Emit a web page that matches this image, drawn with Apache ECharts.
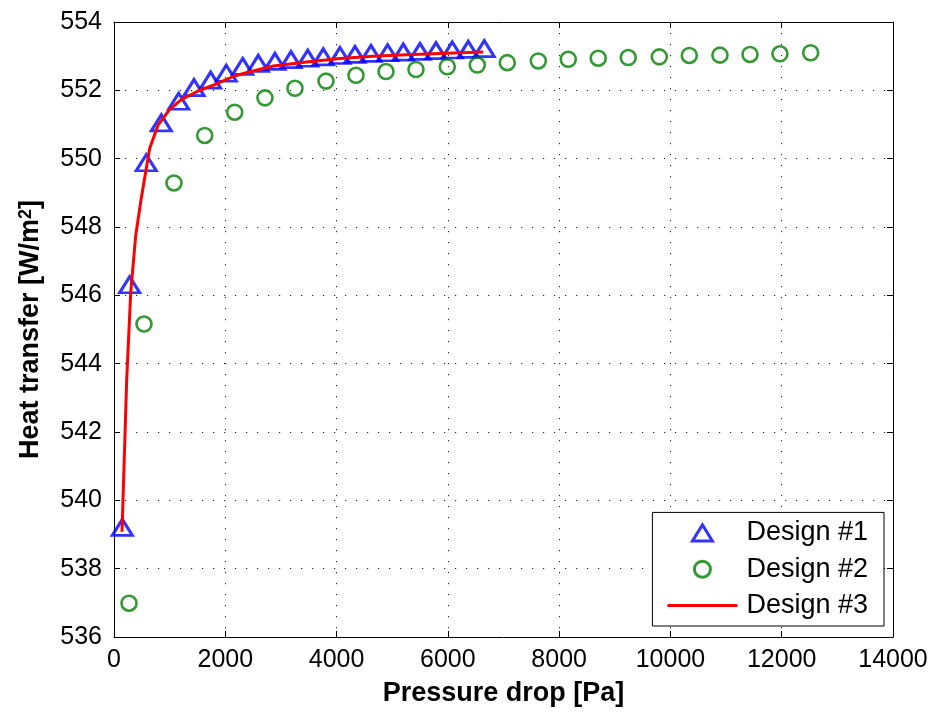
<!DOCTYPE html>
<html>
<head>
<meta charset="utf-8">
<script src="https://cdn.jsdelivr.net/npm/echarts@6/dist/echarts.min.js"></script>
<style>
  html, body { margin: 0; padding: 0; background: #fff; }
  #chart { width: 941px; height: 713px; }
</style>
</head>
<body>
<div id="chart"></div>
<script>
// Design #1 (triangles): pressure drop [Pa] and heat transfer [W/m^2]
const design1X = [150, 282, 580, 850, 1162, 1438, 1737, 2018, 2313, 2593, 2893, 3181,
  3481, 3761, 4061, 4331, 4618, 4918, 5199, 5499, 5786, 6079, 6367, 6654];
const design1Y = [539.21, 546.31, 549.88, 551.05, 551.68, 552.08, 552.30, 552.50, 552.70, 552.79, 552.85, 552.90,
  552.94, 552.98, 553.02, 553.05, 553.08, 553.10, 553.12, 553.14, 553.16, 553.18, 553.20, 553.22];

// Design #2 (circles)
const design2X = [270, 539, 1078, 1630, 2169, 2713, 3253, 3810, 4349, 4888, 5427, 5990, 6529,
  7068, 7625, 8164, 8703, 9242, 9800, 10339, 10890, 11430, 11968, 12520];
const design2Y = [536.99, 545.16, 549.29, 550.68, 551.36, 551.78, 552.06, 552.27, 552.44, 552.55, 552.61, 552.69, 552.74,
  552.81, 552.86, 552.91, 552.94, 552.96, 552.98, 553.02, 553.03, 553.05, 553.07, 553.10];

// Design #3 (solid curve)
const design3X = [144, 228, 300, 390, 491, 570, 641, 791, 1001, 1210, 1510, 1809, 2169, 2408,
  2863, 3463, 4061, 4660, 5260, 5858, 6636];
const design3Y = [539.08, 543.53, 546.07, 547.75, 548.85, 549.62, 550.30, 550.98, 551.44, 551.73, 551.98, 552.17, 552.42, 552.53,
  552.71, 552.83, 552.93, 553.00, 553.04, 553.08, 553.12];

// Axis ranges and tick steps
const xRange = [0, 14000], xStep = 2000;
const yRange = [536, 554], yStep = 2;

const seriesNames = ['Design #1', 'Design #2', 'Design #3'];

const pair = (xs, ys) => xs.map((x, i) => [x, ys[i]]);

const FONT = 'Liberation Sans';
const BLUE = '#0000ff', GREEN = '#008000', RED = '#ff0000';

const gridLine = { show: true, lineStyle: { color: '#222', width: 1, type: [1.2, 9.8] } };

function axisBase(extra) {
  return Object.assign({
    type: 'value',
    axisLine: { show: true, onZero: false, lineStyle: { color: '#000', width: 1 } },
    axisTick: { show: true, inside: true, length: 6, lineStyle: { color: '#000', width: 1 } },
  }, extra);
}

const chart = echarts.init(document.getElementById('chart'), null, { renderer: 'canvas' });

chart.setOption({
  animation: false,
  backgroundColor: '#fff',
  textStyle: { fontFamily: FONT },
  grid: { left: 114, right: 48, top: 22, bottom: 76, containLabel: false },
  xAxis: [
    axisBase({
      position: 'bottom', min: xRange[0], max: xRange[1], interval: xStep,
      axisLabel: {
        color: '#000', fontSize: 25, fontFamily: FONT, margin: 11,
        showMinLabel: true, showMaxLabel: true, formatter: v => String(v)
      },
      splitLine: gridLine,
      name: 'Pressure drop [Pa]', nameLocation: 'middle', nameGap: 43,
      nameTextStyle: { color: '#000', fontSize: 27, fontWeight: 'bold', fontFamily: FONT }
    }),
    axisBase({
      position: 'top', min: xRange[0], max: xRange[1], interval: xStep,
      axisLabel: { show: false }, splitLine: { show: false }
    })
  ],
  yAxis: [
    axisBase({
      position: 'left', min: yRange[0], max: yRange[1], interval: yStep,
      axisLabel: { color: '#000', fontSize: 25, fontFamily: FONT, margin: 12, formatter: v => String(v) },
      splitLine: gridLine,
      name: '{a|Heat transfer [W/m}{s|2}{a|]}', nameLocation: 'middle', nameGap: 70,
      nameTextStyle: {
        rich: {
          a: { color: '#000', fontSize: 27, fontWeight: 'bold', fontFamily: FONT },
          s: { color: '#000', fontSize: 18, fontWeight: 'bold', fontFamily: FONT, verticalAlign: 'top' }
        }
      }
    }),
    axisBase({
      position: 'right', min: yRange[0], max: yRange[1], interval: yStep,
      axisLabel: { show: false }, splitLine: { show: false }
    })
  ],
  legend: {
    orient: 'vertical',
    right: 57, bottom: 87,
    padding: [6.5, 16, 6.5, 15],
    itemGap: 8.3,
    itemWidth: 70, itemHeight: 16,
    symbolKeepAspect: true,
    backgroundColor: '#fff',
    borderColor: '#000', borderWidth: 1, borderRadius: 0,
    textStyle: { color: '#000', fontSize: 27, lineHeight: 28, fontFamily: FONT, padding: [0, 0, 0, 4] },
    data: [
      {
        name: seriesNames[0], icon: 'path://M10,0 L20,16 L0,16 Z',
        itemStyle: { color: 'rgba(0,0,0,0)', borderColor: BLUE, borderWidth: 3 }
      },
      {
        name: seriesNames[1], icon: 'circle',
        itemStyle: { color: 'rgba(0,0,0,0)', borderColor: GREEN, borderWidth: 3 }
      },
      {
        name: seriesNames[2], icon: 'path://M0,0 L70,0 L70,3 L0,3 Z',
        itemStyle: { color: RED, borderWidth: 0 }
      }
    ]
  },
  series: [
    {
      name: seriesNames[0], type: 'scatter', xAxisIndex: 0, yAxisIndex: 0,
      data: pair(design1X, design1Y),
      symbol: 'triangle', symbolSize: [20, 16],
      itemStyle: { color: 'rgba(0,0,0,0)', borderColor: BLUE, borderWidth: 3 },
      z: 3
    },
    {
      name: seriesNames[1], type: 'scatter', xAxisIndex: 0, yAxisIndex: 0,
      data: pair(design2X, design2Y),
      symbol: 'circle', symbolSize: 15,
      itemStyle: { color: 'rgba(0,0,0,0)', borderColor: GREEN, borderWidth: 2.6 },
      z: 3
    },
    {
      name: seriesNames[2], type: 'line', xAxisIndex: 0, yAxisIndex: 0,
      data: pair(design3X, design3Y),
      symbol: 'none', smooth: false,
      lineStyle: { color: RED, width: 3, join: 'round' },
      itemStyle: { color: RED },
      z: 4
    }
  ]
});
</script>
</body>
</html>
